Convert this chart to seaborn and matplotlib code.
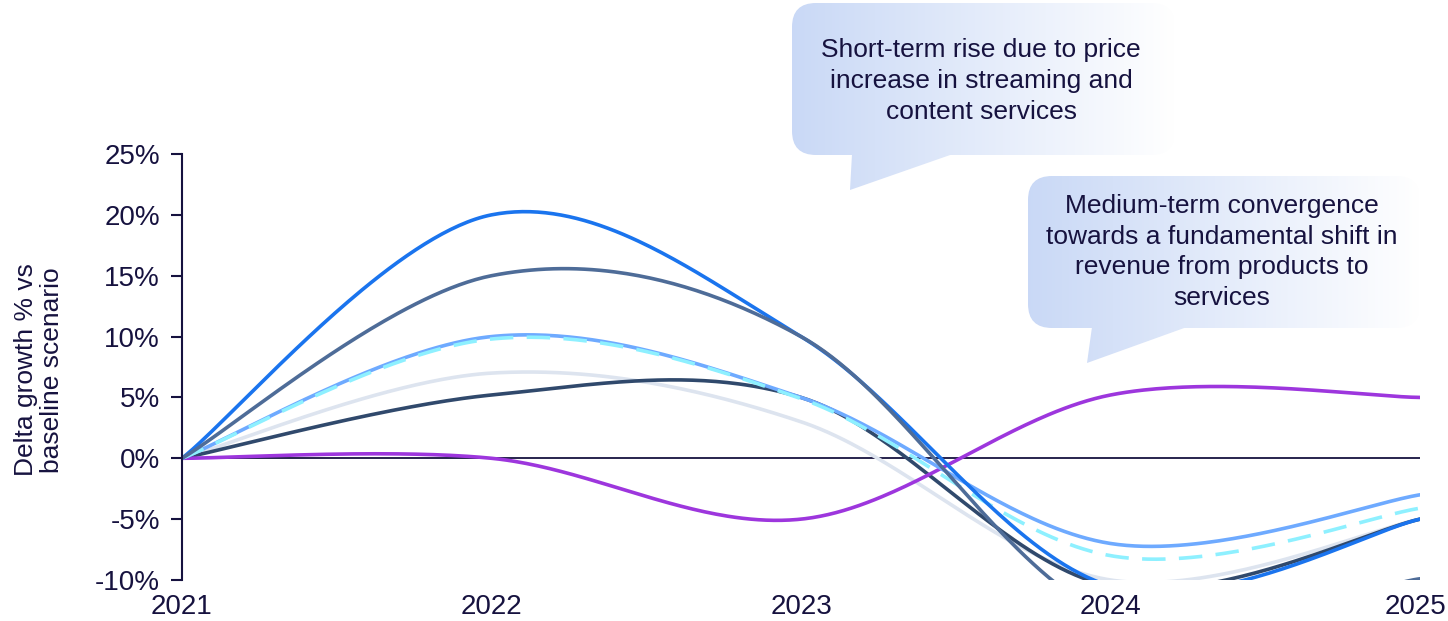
import numpy as np
import pandas as pd
import matplotlib
matplotlib.use("Agg")
import matplotlib.pyplot as plt
import matplotlib.transforms as mtransforms
import seaborn as sns
from matplotlib.patches import FancyBboxPatch, Polygon

# ---------------- data ----------------
years = [2021, 2022, 2023, 2024, 2025]
s_blue = [0, 20.0, 10.0, -10.5, -5.0]
s_slate = [0, 15.0, 10.0, -13.0, -9.9]
s_lightblue = [0, 10.0, 5.0, -7.0, -3.0]
s_cyan = [0, 9.8, 4.9, -8.0, -4.1]
s_grey = [0, 7.0, 3.0, -10.0, -5.0]
s_navy = [0, 5.2, 5.0, -10.5, -5.0]
s_purple = [0, 0.0, -5.0, 5.2, 5.0]
y_ticks = [-10, -5, 0, 5, 10, 15, 20, 25]
y_label = "Delta growth % vs\nbaseline scenario"
callout_1 = "Short-term rise due to price\nincrease in streaming and\ncontent services"
callout_2 = "Medium-term convergence\ntowards a fundamental shift in\nrevenue from products to\nservices"

TEXT = "#16123f"
series = [
    (s_grey, "#dde4ef", None),
    (s_navy, "#30496c", None),
    (s_purple, "#9d36dd", None),
    (s_lightblue, "#6eaaff", None),
    (s_cyan, "#8ef0ff", (6.5, 3.7)),
    (s_blue, "#1a74ee", None),
    (s_slate, "#4e6c98", None),
]


def excel_smooth(xs, ys, n=80):
    """Smoothed line through the points (Excel-style Bezier segments)."""
    P = np.column_stack([xs, ys]).astype(float)
    out = []
    m = len(P)
    for i in range(m - 1):
        p0 = P[i - 1] if i > 0 else P[i]
        p1, p2 = P[i], P[i + 1]
        p3 = P[i + 2] if i + 2 < m else P[i + 1]
        c1 = p1 + (p2 - p0) / 6.0
        c2 = p2 - (p3 - p1) / 6.0
        s = np.linspace(0, 1, n, endpoint=(i == m - 2))[:, None]
        pts = ((1 - s) ** 3) * p1 + 3 * ((1 - s) ** 2) * s * c1 + 3 * (1 - s) * s ** 2 * c2 + s ** 3 * p2
        out.append(pts)
    out = np.vstack(out)
    return out[:, 0], out[:, 1]


sns.set_theme(style="white")
plt.rcParams["font.family"] = ["Liberation Sans", "DejaVu Sans"]

W, H = 1448, 621
fig = plt.figure(figsize=(W / 100, H / 100), dpi=100)
ax = fig.add_axes([182 / W, 1 - 580 / H, (1420 - 182) / W, (580 - 154) / H])

for vals, col, dash in series:
    sx, sy = excel_smooth(years, vals)
    df = pd.DataFrame({"year": sx, "value": sy})
    sns.lineplot(data=df, x="year", y="value", ax=ax, sort=False, estimator=None,
                 color=col, linewidth=2.6, solid_capstyle="round")
    if dash is not None:
        ax.lines[-1].set_dashes(dash)
        ax.lines[-1].set_dash_capstyle("butt")

ax.axhline(0, color=TEXT, linewidth=1.3, zorder=1.5)

ax.set_xlim(years[0], years[-1])
ax.set_ylim(y_ticks[0], y_ticks[-1])
ax.set_xticks(years)
ax.set_xticklabels([str(y) for y in years])
ax.set_yticks(y_ticks)
ax.set_yticklabels([f"{t}%" for t in y_ticks])
ax.tick_params(axis="x", length=0, pad=10, labelsize=20, labelcolor=TEXT)
ax.tick_params(axis="y", length=8, width=1.5, color=TEXT, direction="out", left=True,
               pad=8, labelsize=20, labelcolor=TEXT)
# keep the last year label inside the canvas
last = ax.get_xticklabels()[-1]
last.set_transform(last.get_transform() + mtransforms.ScaledTranslation(-5 / 100, 0, fig.dpi_scale_trans))
for sp in ["top", "right", "bottom"]:
    ax.spines[sp].set_visible(False)
ax.spines["left"].set_color(TEXT)
ax.spines["left"].set_linewidth(1.5)
ax.set_xlabel("")
ax.set_ylabel(y_label, fontsize=19, color=TEXT, linespacing=1.1)
ax.yaxis.set_label_coords(-0.095, 0.493)
ax.patch.set_alpha(0)

# ---------------- callouts ----------------
ov = fig.add_axes([0, 0, 1, 1], zorder=5)
ov.set_xlim(0, W)
ov.set_ylim(H, 0)
ov.axis("off")
ov.patch.set_alpha(0)

left_c = np.array([0.79, 0.85, 0.965])
right_c = np.array([1.0, 1.0, 1.0])


def gradient_fill(x0, x1, y0, y1, clip):
    g = np.linspace(0, 1, 256)[None, :, None]
    img = left_c[None, None, :] * (1 - g) + right_c[None, None, :] * g
    im = ov.imshow(img, extent=[x0, x1, y1, y0], aspect="auto", interpolation="bilinear", zorder=1)
    im.set_clip_path(clip)


def callout(bx0, by0, bx1, by1, tri, text, cx, cy):
    box = FancyBboxPatch((bx0, by0), bx1 - bx0, by1 - by0,
                         boxstyle="round,pad=0,rounding_size=24",
                         facecolor="none", edgecolor="none")
    ov.add_patch(box)
    gradient_fill(bx0, bx1, by0, by1, box)
    poly = Polygon(tri, closed=True, facecolor="none", edgecolor="none")
    ov.add_patch(poly)
    gradient_fill(bx0, bx1, by0, by1 + 60, poly)
    ov.text(cx, cy, text, ha="center", va="center", fontsize=19, color=TEXT,
            linespacing=1.36, zorder=3)


callout(792, 3, 1175, 155, [(852, 154), (953, 154), (850, 190)], callout_1, 981, 81)
callout(1028, 176, 1420, 328, [(1092, 327), (1187, 327), (1087, 363)], callout_2, 1222, 252)

fig.savefig("out.png", dpi=100)
